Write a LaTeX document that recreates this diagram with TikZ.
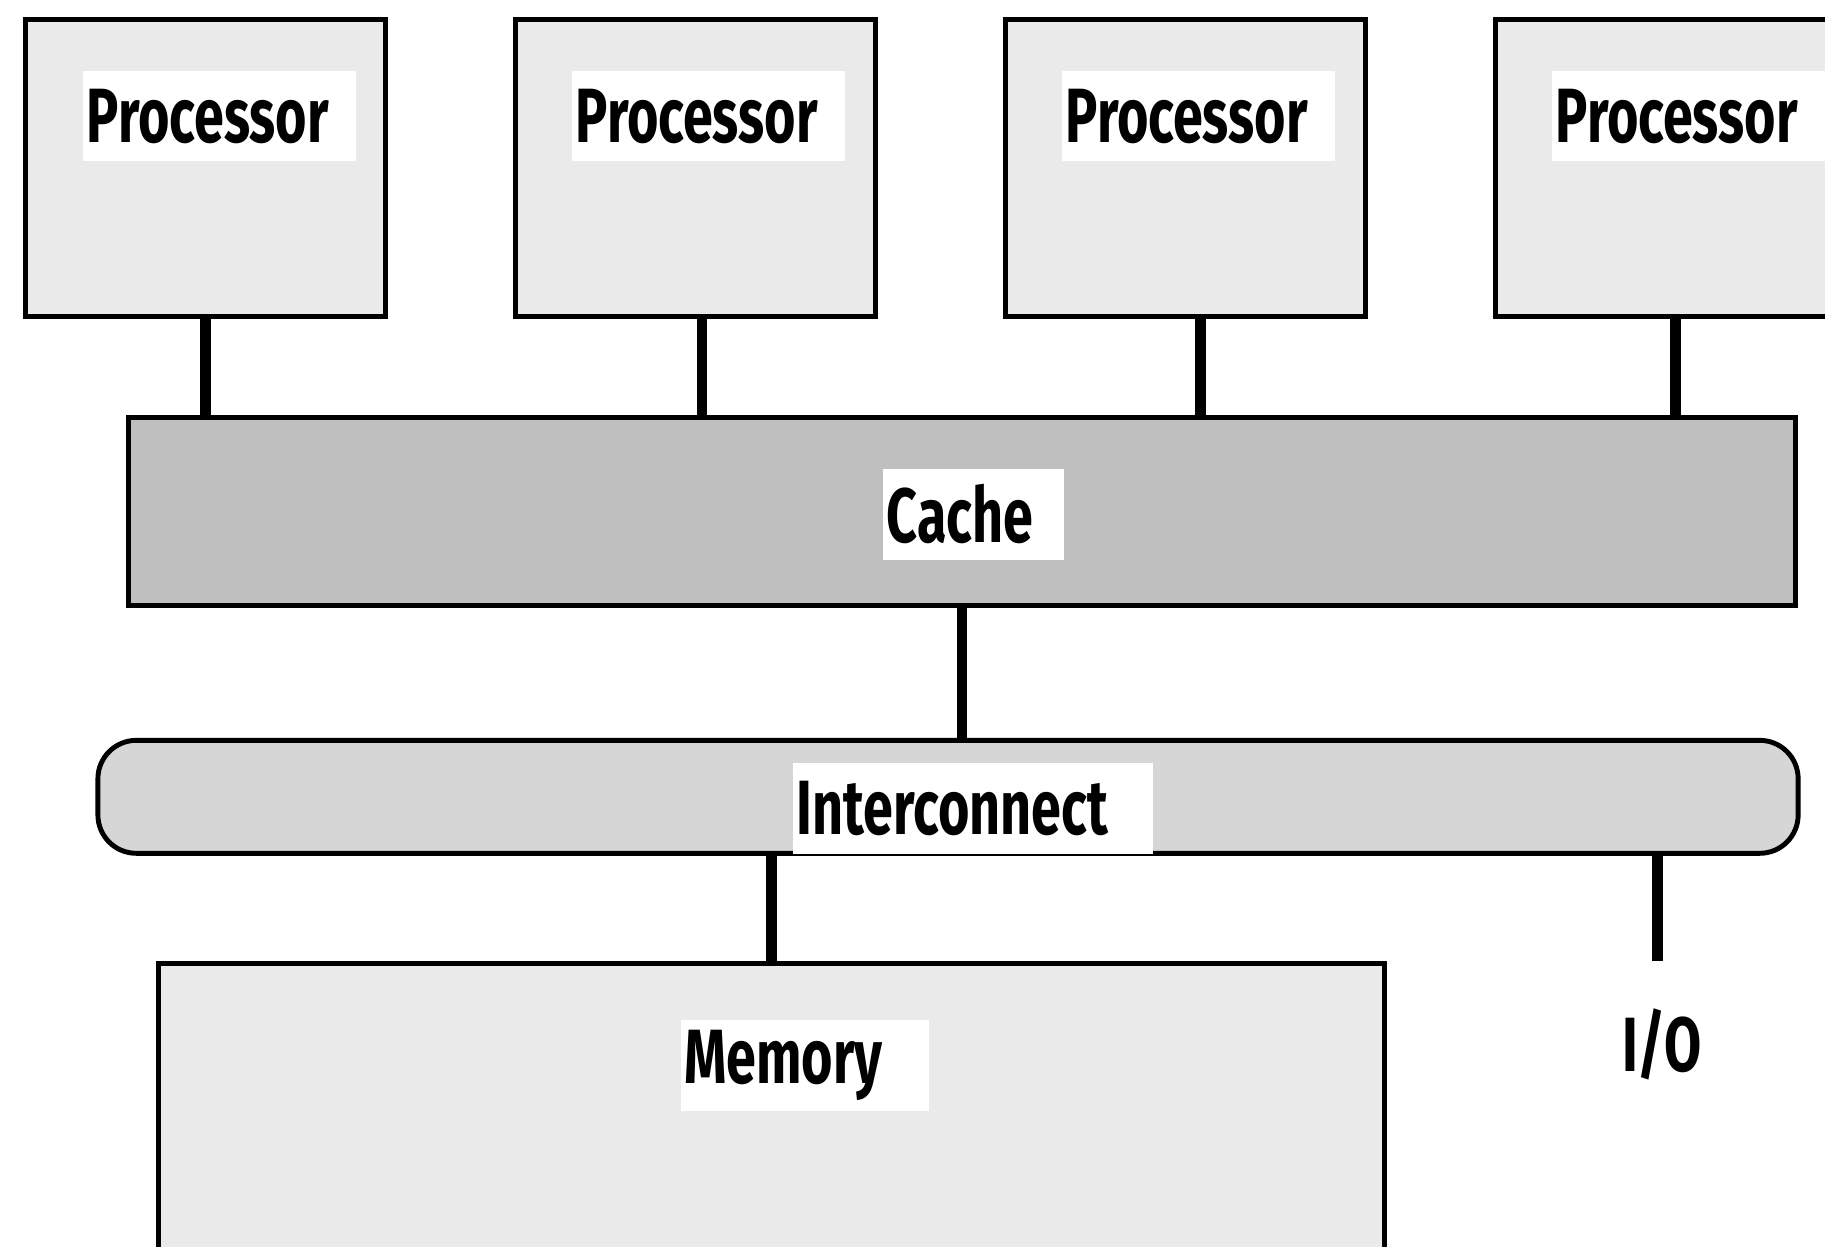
\documentclass[tikz,border=0pt]{standalone}
\usepackage{fontspec}
\newfontfamily\lblfont{Fira Sans}[FakeStretch=0.70]
\definecolor{procgray}{HTML}{EAEAEA}
\definecolor{cachegray}{HTML}{BFBFBF}
\definecolor{icgray}{HTML}{D6D6D6}
\begin{document}
\begin{tikzpicture}[x=0.01cm,y=-0.01cm,
  box/.style={draw=black, line width=1.2pt, inner sep=0pt, anchor=north west},
  procbox/.style={box, fill=procgray, minimum width=3.09cm, minimum height=2.55cm},
  conn/.style={line width=2.6pt},
  lbl/.style={fill=white, inner xsep=0.03cm, inner ysep=0pt, anchor=north west, align=left, minimum height=0.78cm,
    font=\lblfont\bfseries\fontsize{18.8}{20}\selectfont},
  iotext/.style={inner sep=0pt, font=\lblfont\bfseries\fontsize{18.8}{20}\selectfont}
]
\useasboundingbox (0,0) rectangle (1568,1071);
\clip (0,0) rectangle (1568,1071);

% boxes
\node[procbox] (p1) at (20,15) {};
\node[procbox] (p2) at (441,15) {};
\node[procbox] (p3) at (862,15) {};
\node[procbox] (p4) at (1283,15) {};
\node[box, fill=cachegray, minimum width=14.32cm, minimum height=1.61cm] (cache) at (108,357) {};
\node[box, fill=icgray, rounded corners=0.33cm, minimum width=14.60cm, minimum height=0.97cm] (ic) at (82,634) {};
\node[box, fill=procgray, minimum width=10.53cm, minimum height=3.2cm] (mem) at (134,826) {};
\coordinate (io) at (1424,826);

% connectors
\draw[conn] (p1.south) -- (p1.south |- cache.north);
\draw[conn] ([xshift=0.055cm]p2.south) -- ([xshift=0.055cm]p2.south |- cache.north);
\draw[conn] ([xshift=0.125cm]p3.south) -- ([xshift=0.125cm]p3.south |- cache.north);
\draw[conn] (p4.south) -- (p4.south |- cache.north);
\draw[conn] (cache.south) -- (cache.south |- ic.north);
\draw[conn] (mem.north |- ic.south) -- (mem.north);
\draw[conn] (io |- ic.south) -- (io);

% labels
\node[lbl, text width=2.28cm] (p1t) at (71,60) {Processor};
\node[lbl, text width=2.28cm] (p2t) at (491,60) {Processor};
\node[lbl, text width=2.28cm] (p3t) at (912,60) {Processor};
\node[lbl, text width=2.28cm] (p4t) at (1333,60) {Processor};
\node[lbl, text width=1.49cm] (cachet) at (758,402) {Cache};
\node[lbl, text width=3.03cm] (ict) at (681,655) {Interconnect};
\node[lbl, text width=2.07cm] (memt) at (584,876) {Memory};
\node[iotext] (iot) at (1428,897) {I/O};
\end{tikzpicture}
\end{document}
